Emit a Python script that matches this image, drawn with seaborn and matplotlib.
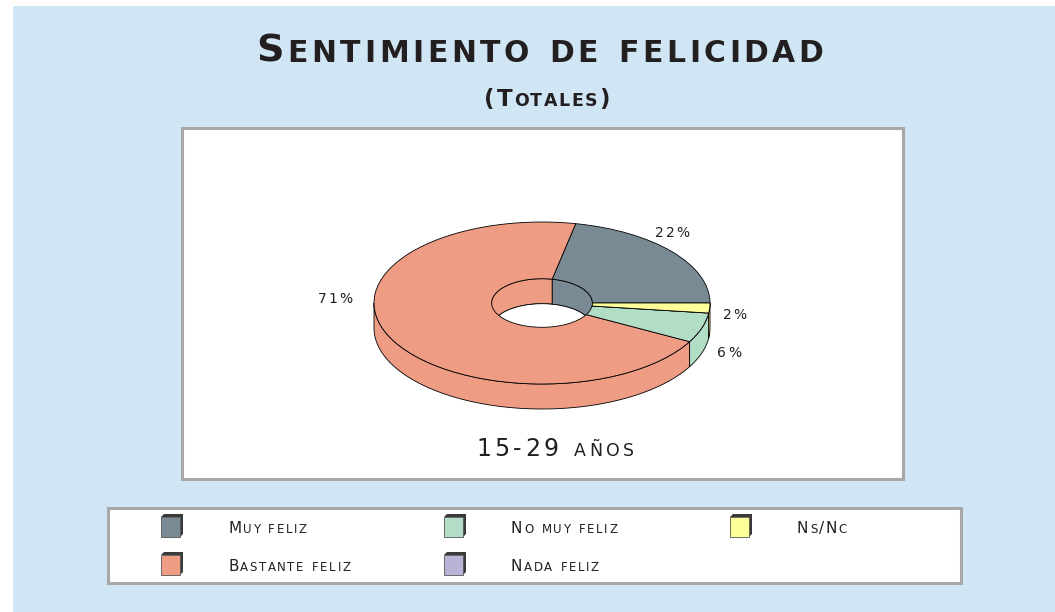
import numpy as np
import matplotlib
matplotlib.use("Agg")
import matplotlib.pyplot as plt
import seaborn as sns
from matplotlib.patches import Rectangle, Polygon, Ellipse

# data (pie order, counter-clockwise from 3 o'clock)
categories = ["Muy feliz", "Bastante feliz", "No muy feliz", "Nada feliz", "Ns/Nc"]
values = [22, 71, 6, 0, 2]
colors = ["#7a8a94", "#ee9d84", "#b2dec8", "#b9b3d8", "#ffff99"]

# legend order (row-wise, 3 columns)
legend_order = ["Muy feliz", "No muy feliz", "Ns/Nc", "Bastante feliz", "Nada feliz"]

title = "Sentimiento de felicidad"
subtitle = "(Totales)"
group_label = "15-29 años"

sns.set_theme(style="white")
plt.rcParams["font.family"] = ["DejaVu Sans"]

W, H = 1055, 612
fig = plt.figure(figsize=(W / 100, H / 100), dpi=100)
fig.patch.set_facecolor("white")

# full-figure layer in pixel units (y down)
bg = fig.add_axes([0, 0, 1, 1], zorder=0)
bg.set_xlim(0, W)
bg.set_ylim(H, 0)
bg.axis("off")

bg.add_patch(Rectangle((13, 6), W - 13, H - 6, fc="#d1e6f4", ec="none"))
bg.add_patch(Rectangle((182, 128), 721, 351, fc="white", ec="#a8a8a8", lw=2.2))
bg.add_patch(Rectangle((108, 508), 853, 75, fc="white", ec="#a8a8a8", lw=2.2))

TXT = "#231f20"


def sc_text(x, y, s, big, small, width=None, track=0.0, ha="left", weight="normal"):
    # small-caps imitation: lowercase letters drawn as smaller capitals
    r = fig.canvas.get_renderer()
    widths, arts = [], []
    for ch in s:
        size = small if ch.islower() else big
        if ch == " ":
            widths.append(size * 100 / 72 * 0.34)
            arts.append(None)
        else:
            t = bg.text(0, y, ch.upper(), fontsize=size, color=TXT,
                        va="baseline", ha="left", fontweight=weight)
            widths.append(t.get_window_extent(r).width)
            arts.append(t)
    if width is not None:
        track = (width - sum(widths)) / max(len(s) - 1, 1)
    total = sum(widths) + track * (len(s) - 1)
    x0 = x - total / 2 if ha == "center" else x
    for w, a in zip(widths, arts):
        if a is not None:
            a.set_x(x0)
        x0 += w + track


sc_text(540, 62, title, 27.5, 21.5, width=567, ha="center", weight="bold")
sc_text(547, 106, subtitle, 16.5, 12.5, width=125, ha="center", weight="bold")
sc_text(555, 456, group_label, 17, 12.5, track=3.5, ha="center")

# ---- 3D donut ----
CX, CY, RX, RY, DEPTH = 542, 303, 168, 81, 25
HOLE = 0.3
x_l, x_w = CX - 1.3 * RX, 2.6 * RX
y_t, y_h = CY - 1.3 * RY, 2.9 * RY
pax = fig.add_axes([x_l / W, (H - (y_t + y_h)) / H, x_w / W, y_h / H], zorder=2)

pax.pie(values, colors=colors, startangle=0, counterclock=True,
        wedgeprops=dict(width=1 - HOLE, edgecolor="black", linewidth=0.6, zorder=3))
pax.set_aspect("auto")
pax.set_xlim(-1.3, 1.3)
pax.set_ylim(-1.6, 1.3)
pax.axis("off")

d = DEPTH / RY
edges = 360 * np.concatenate([[0], np.cumsum(values)]) / sum(values)


def wall(r, lo, hi, color, z):
    t = np.radians(np.linspace(lo, hi, 80))
    top = np.column_stack([r * np.cos(t), r * np.sin(t)])
    bot = top[::-1] - [0, d]
    pax.add_patch(Polygon(np.vstack([top, bot]), closed=True, fc=color,
                          ec="black", lw=0.6, zorder=z))


for v, c, a0, a1 in zip(values, colors, edges[:-1], edges[1:]):
    if v == 0:
        continue
    # outer wall, front half
    lo, hi = max(a0, 180), min(a1, 360)
    if hi > lo:
        wall(1.0, lo, hi, c, 1)
    # inner wall seen through the hole, back half
    lo, hi = max(a0, 0), min(a1, 180)
    if hi > lo:
        wall(HOLE, lo, hi, c, 1)

pax.add_patch(Ellipse((0, -d), 2 * HOLE, 2 * HOLE, fc="white", ec="black",
                      lw=0.6, zorder=2))

# percentage labels (left x, baseline y)
label_pos = {"Muy feliz": (655, 237), "Bastante feliz": (318, 303),
             "No muy feliz": (717, 357), "Ns/Nc": (723, 319)}
for cat, v in zip(categories, values):
    if v == 0:
        continue
    lx, ly = label_pos[cat]
    sc_text(lx, ly, f"{v}%", 10, 10, track=2.0)

# legend
col_x = [161, 444, 730]
row_y = [517, 555]
text_dx = 67
for i, cat in enumerate(legend_order):
    c = colors[categories.index(cat)]
    mx, my = col_x[i % 3], row_y[i // 3]
    bg.add_patch(Polygon([(mx, my), (mx + 3, my - 3), (mx + 22, my - 3),
                          (mx + 22, my + 17), (mx + 19, my + 20), (mx + 19, my)],
                         closed=True, fc="#3a3a3a", ec="none"))
    bg.add_patch(Rectangle((mx, my), 19, 20, fc=c, ec="#555555", lw=0.6))
    sc_text(mx + text_dx, my + 16, cat, 11, 8.5, track=1.6)

fig.savefig("out.png", dpi=100)
